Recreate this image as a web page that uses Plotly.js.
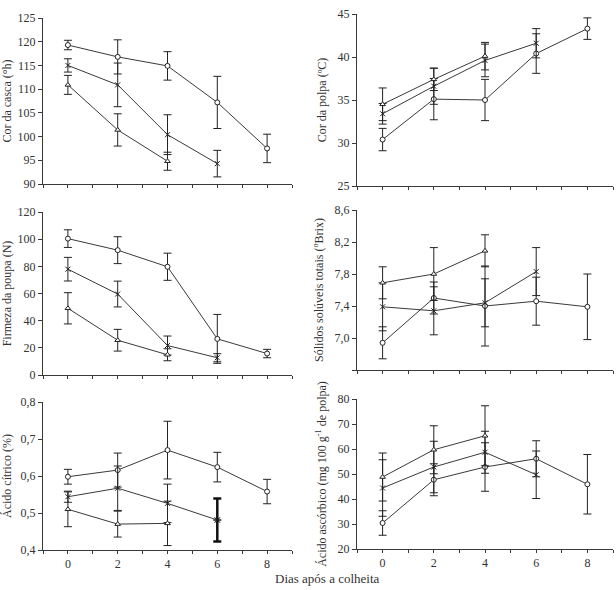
<!DOCTYPE html>
<html>
<head>
<meta charset="utf-8">
<script src="https://cdn.plot.ly/plotly-3.0.1.min.js"></script>
<style>html,body{margin:0;padding:0;background:#fff}#chart{width:616px;height:590px}</style>
</head>
<body>
<div id="chart"></div>
<script>
// ---------- data ----------
var days = [0, 2, 4, 6, 8];
var xTickVals = [-1, 0, 1, 2, 3, 4, 5, 6, 7, 8, 9];
var xTickText = ['', '0', '', '2', '', '4', '', '6', '', '8', ''];

// Cor da casca (°h)
var cascaC = [119.3, 116.8, 114.9, 107.2, 97.5];
var cascaCErr = [1.0, 3.6, 3.0, 5.5, 3.0];
var cascaX = [115.0, 110.9, 100.4, 94.3];
var cascaXErr = [1.4, 4.6, 4.2, 2.8];
var cascaT = [110.9, 101.4, 94.8];
var cascaTErr = [2.0, 3.4, 1.9];

// Cor da polpa (ºC)
var polpaC = [30.4, 35.1, 35.0, 40.4, 43.3];
var polpaCErr = [1.3, 2.4, 2.4, 2.3, 1.25];
var polpaX = [33.4, 36.6, 39.6, 41.6];
var polpaXErr = [1.2, 2.1, 1.9, 1.7];
var polpaT = [34.5, 37.4, 40.1];
var polpaTErr = [1.9, 1.3, 1.6];

// Firmeza da poupa (N)
var firmC = [100.4, 91.9, 79.7, 26.6, 15.8];
var firmCErr = [6.5, 9.9, 10.0, 18.0, 3.1];
var firmX = [77.9, 59.6, 21.7, 12.7];
var firmXErr = [8.7, 9.5, 7.0, 3.0];
var firmT = [49.1, 25.6, 14.9];
var firmTErr = [11.5, 8.0, 4.4];

// Sólidos solúveis totais (°Brix)
var sstC = [6.94, 7.50, 7.40, 7.46, 7.39];
var sstCErr = [0.2, 0.2, 0.5, 0.3, 0.41];
var sstX = [7.39, 7.34, 7.44, 7.83];
var sstXErr = [0.3, 0.3, 0.3, 0.3];
var sstT = [7.69, 7.80, 8.09];
var sstTErr = [0.2, 0.33, 0.2];
var sstTickVals = [6.6, 7.0, 7.4, 7.8, 8.2, 8.6];
var sstTickText = ['', '7,0', '7,4', '7,8', '8,2', '8,6'];

// Ácido cítrico (%)
var citC = [0.598, 0.616, 0.670, 0.624, 0.558];
var citCErr = [0.02, 0.046, 0.078, 0.04, 0.033];
var citX = [0.544, 0.567, 0.526, 0.481];
var citXErr = [0.015, 0.06, 0.052, null];
var citXBoldErr = [0.058];
var citT = [0.510, 0.470, 0.472];
var citTErr = [0.047, 0.035, 0.06];

// Ácido ascórbico (mg 100 g-1 de polpa)
var ascC = [30.4, 47.7, 52.8, 56.1, 45.9];
var ascCErr = [4.9, 6.4, 9.7, 7.2, 11.9];
var ascX = [44.4, 52.8, 58.7, 49.7];
var ascXErr = [11.3, 10.3, 8.4, 9.5];
var ascT = [48.8, 59.7, 65.3];
var ascTErr = [9.6, 9.6, 12.0];

// ---------- styles ----------
var LINE = '#3a3a3a';
var INK = '#222';
var FONT = 'Liberation Serif, Times New Roman, serif';
var TXT = '#333';

function series(xs, ys, errs, sym, xa, ya) {
  var isX = sym.indexOf('x') === 0;
  return {
    x: xs.slice(0, ys.length), y: ys, xaxis: xa, yaxis: ya,
    type: 'scatter', mode: 'lines+markers',
    line: {color: LINE, width: 1},
    marker: {symbol: sym, size: 5,
             color: isX ? INK : '#fff',
             line: {color: INK, width: 1}},
    error_y: {type: 'data', array: errs, visible: true, color: INK, thickness: 1, width: 4},
    showlegend: false, hoverinfo: 'skip'
  };
}

var traces = [
  series(days, cascaC, cascaCErr, 'circle', 'x', 'y'),
  series(days, cascaX, cascaXErr, 'x-thin-open', 'x', 'y'),
  series(days, cascaT, cascaTErr, 'triangle-up', 'x', 'y'),

  series(days, polpaC, polpaCErr, 'circle', 'x2', 'y2'),
  series(days, polpaX, polpaXErr, 'x-thin-open', 'x2', 'y2'),
  series(days, polpaT, polpaTErr, 'triangle-up', 'x2', 'y2'),

  series(days, firmC, firmCErr, 'circle', 'x3', 'y3'),
  series(days, firmX, firmXErr, 'x-thin-open', 'x3', 'y3'),
  series(days, firmT, firmTErr, 'triangle-up', 'x3', 'y3'),

  series(days, sstC, sstCErr, 'circle', 'x4', 'y4'),
  series(days, sstX, sstXErr, 'x-thin-open', 'x4', 'y4'),
  series(days, sstT, sstTErr, 'triangle-up', 'x4', 'y4'),

  series(days, citC, citCErr, 'circle', 'x5', 'y5'),
  series(days, citX, citXErr, 'x-thin-open', 'x5', 'y5'),
  series(days, citT, citTErr, 'triangle-up', 'x5', 'y5'),
  {
    x: [days[3]], y: [citX[3]], xaxis: 'x5', yaxis: 'y5', type: 'scatter', mode: 'markers',
    marker: {symbol: 'x-thin-open', size: 5, color: INK, line: {color: INK, width: 1}},
    error_y: {type: 'data', array: citXBoldErr, visible: true, color: '#111', thickness: 2.5, width: 4},
    showlegend: false, hoverinfo: 'skip'
  },

  series(days, ascC, ascCErr, 'circle', 'x6', 'y6'),
  series(days, ascX, ascXErr, 'x-thin-open', 'x6', 'y6'),
  series(days, ascT, ascTErr, 'triangle-up', 'x6', 'y6')
];

var W = 616, H = 590;
function dx(a, b) { return [a / W, b / W]; }
function dy(top, bottom) { return [1 - bottom / H, 1 - top / H]; }

function xax(dom, anchor, labels) {
  return {
    domain: dom, anchor: anchor, range: [-1, 9],
    tickmode: 'array', tickvals: xTickVals,
    ticktext: labels ? xTickText : xTickVals.map(function(){return '';}),
    ticks: 'outside', ticklen: 3, tickcolor: LINE, tickwidth: 1,
    showline: true, linecolor: LINE, linewidth: 1,
    showgrid: false, zeroline: false, automargin: false,
    tickfont: {family: FONT, size: 12, color: TXT}
  };
}
function yax(dom, anchor, range, title, extra) {
  var o = {
    domain: dom, anchor: anchor, range: range,
    ticks: 'outside', ticklen: 4, tickcolor: LINE, tickwidth: 1,
    showline: true, linecolor: LINE, linewidth: 1,
    showgrid: false, zeroline: false, automargin: false,
    tickfont: {family: FONT, size: 12, color: TXT},
    title: {text: title, font: {family: FONT, size: 12, color: TXT}, standoff: 8}
  };
  for (var k in extra) o[k] = extra[k];
  return o;
}

var L = dx(43, 292), R = dx(357, 613);

var layout = {
  width: W, height: H,
  margin: {l: 0, r: 0, t: 0, b: 0},
  paper_bgcolor: '#fff', plot_bgcolor: '#fff',
  separators: ', ',
  showlegend: false,
  font: {family: FONT, color: TXT},
  xaxis: xax(L, 'y', false),
  yaxis: yax(dy(18, 184), 'x', [90, 125], 'Cor da casca (°h)', {dtick: 5, tick0: 90}),
  xaxis2: xax(R, 'y2', false),
  yaxis2: yax(dy(14, 186), 'x2', [25, 45], 'Cor da polpa (ºC)', {dtick: 5, tick0: 25}),
  xaxis3: xax(L, 'y3', false),
  yaxis3: yax(dy(212, 375), 'x3', [0, 120], 'Firmeza da poupa (N)', {dtick: 20, tick0: 0}),
  xaxis4: xax(R, 'y4', false),
  yaxis4: yax(dy(210, 370), 'x4', [6.6, 8.6], 'Sólidos solúveis totais (<sup>o</sup>Brix)',
              {tickmode: 'array', tickvals: sstTickVals, ticktext: sstTickText}),
  xaxis5: xax(L, 'y5', true),
  yaxis5: yax(dy(402, 550), 'x5', [0.4, 0.8], 'Ácido cítrico (%)', {dtick: 0.1, tick0: 0.4, tickformat: '.1f'}),
  xaxis6: xax(R, 'y6', true),
  yaxis6: yax(dy(399, 549), 'x6', [20, 80], 'Ácido ascórbico (mg 100 g<sup>-1</sup> de polpa)', {dtick: 10, tick0: 20}),
  annotations: [{
    text: 'Dias após a colheita', xref: 'paper', yref: 'paper',
    x: 327 / W, y: 1 - 588 / H, xanchor: 'center', yanchor: 'bottom',
    showarrow: false, font: {family: FONT, size: 13, color: TXT}
  }]
};

Plotly.newPlot('chart', traces, layout, {staticPlot: true, displayModeBar: false});
</script>
</body>
</html>
